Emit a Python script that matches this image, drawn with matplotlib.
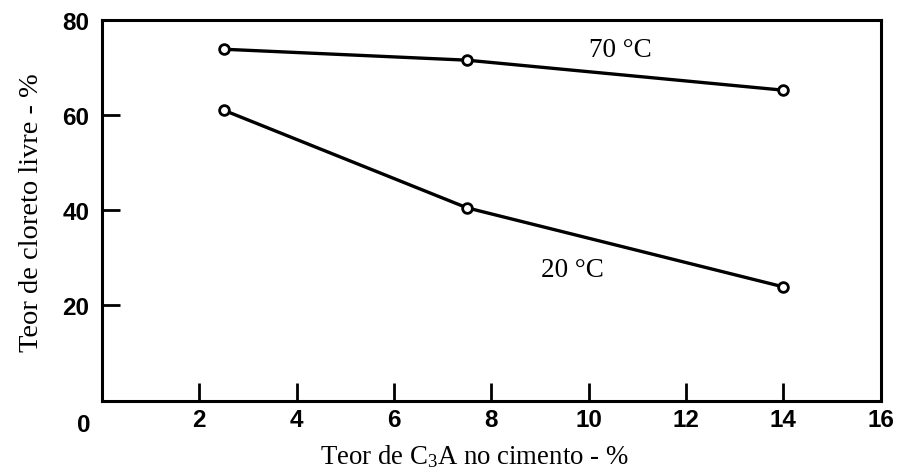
import matplotlib
matplotlib.use("Agg")
import matplotlib.pyplot as plt

plt.rcParams["mathtext.fontset"] = "custom"
plt.rcParams["mathtext.rm"] = "Liberation Serif"
plt.rcParams["mathtext.it"] = "Liberation Serif:italic"

# C3A content of the cement (%)
c3a = [2.5, 7.5, 14]
# Free chloride content (%) for each curing temperature
cloreto_70 = [73.8, 71.5, 65.2]
cloreto_20 = [61.0, 40.5, 23.9]

x_ticks = [2, 4, 6, 8, 10, 12, 14, 16]
y_ticks = [20, 40, 60, 80]

fig = plt.figure(figsize=(8.99, 4.77), dpi=100)
ax = fig.add_axes([102 / 899, 1 - 401.7 / 477, (880.7 - 102) / 899, (401.7 - 20.7) / 477])

line_kw = dict(color="black", linewidth=2.4, marker="o", markersize=7,
               markerfacecolor="white", markeredgecolor="black", markeredgewidth=2)
ax.plot(c3a, cloreto_70, **line_kw)
ax.plot(c3a, cloreto_20, **line_kw)

ax.set_xlim(0, 16)
ax.set_ylim(0, 80)

tick_font = dict(family="Liberation Sans", size=17.5, weight="bold")
label_font = dict(family="Liberation Serif", size=19.5)

ax.set_xticks(x_ticks)
ax.set_xticklabels([str(v) for v in x_ticks], fontdict=tick_font)
ax.set_yticks(y_ticks)
ax.set_yticklabels([str(v) for v in y_ticks], fontdict=tick_font)

ax.tick_params(axis="both", direction="in", length=13, width=2, color="black")
ax.tick_params(axis="x", pad=5)
ax.tick_params(axis="y", pad=9)
# hide the tick marks that coincide with the frame
for t in ax.xaxis.get_major_ticks()[-1:]:
    t.tick1line.set_visible(False)
for t in ax.yaxis.get_major_ticks()[-1:]:
    t.tick1line.set_visible(False)

for s in ax.spines.values():
    s.set_linewidth(2.2)
    s.set_color("black")

# shared origin label
ax.text(-0.37, -2.6, "0", ha="center", va="top", fontdict=tick_font, clip_on=False)

ax.text(10.65, 73.8, "70 °C", ha="center", va="center", fontdict=label_font)
ax.text(9.66, 27.6, "20 °C", ha="center", va="center", fontdict=label_font)

ax.set_xlabel("Teor de C$_3$A no cimento - %", family="Liberation Serif",
              size=19.3, labelpad=8)
ax.xaxis.label.set_x(0.478)
ax.set_ylabel("Teor de cloreto livre - %", family="Liberation Serif",
              size=20.5, labelpad=13)
ax.yaxis.label.set_y(0.495)

fig.savefig("out.png", dpi=100)
